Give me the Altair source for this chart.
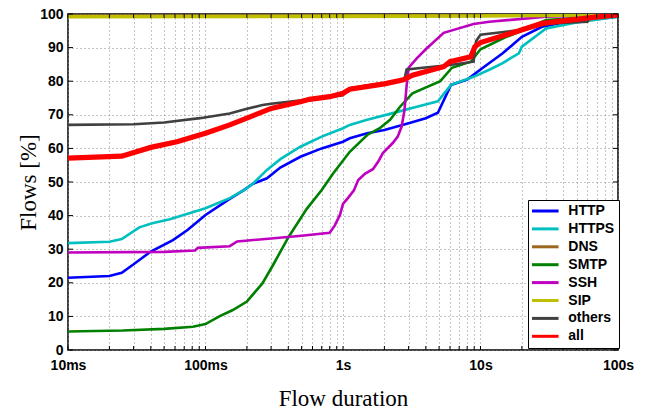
import altair as alt
import pandas as pd

series_names = ["HTTP", "HTTPS", "DNS", "SMTP", "SSH", "SIP", "others", "all"]
colors = ["#0000ff", "#00bfbf", "#9c661c", "#008000", "#bf00bf", "#bfbf00", "#404040", "#ff0000"]
widths = [2.6, 2.6, 2.6, 2.6, 2.6, 3.6, 2.6, 5.2]

# flow duration in seconds, share of flows in %
http_t = [0.01, 0.02, 0.0246, 0.03, 0.04, 0.058, 0.074, 0.1, 0.15, 0.19, 0.22, 0.28, 0.35, 0.49, 0.7, 1.0, 1.12,
          1.5, 2.0, 3.0, 4.0, 4.9, 6.1, 8.0, 10, 14.5, 20, 28, 40, 70, 100]
http_v = [21.5, 22.0, 23.0, 25.5, 29.3, 32.7, 35.7, 40.2, 45.0, 47.6, 49.4, 51.1, 54.3, 57.5, 60.0, 62.0, 63.0,
          64.5, 65.5, 67.5, 69.0, 70.6, 78.9, 80.5, 83.5, 88.3, 93.2, 96.2, 97.5, 98.5, 99.2]

https_t = [0.01, 0.02, 0.0246, 0.033, 0.041, 0.055, 0.1, 0.15, 0.19, 0.22, 0.28, 0.35, 0.49, 0.7, 1.0, 1.12,
           1.5, 2.3, 3.5, 4.9, 6.1, 8.9, 12, 14.5, 19, 20, 30, 50, 100]
https_v = [31.8, 32.2, 33.0, 36.5, 37.7, 38.9, 42.2, 45.2, 47.6, 49.4, 53.6, 56.8, 60.5, 63.5, 66.0, 67.0,
           68.5, 70.5, 72.5, 74.0, 78.9, 81.3, 83.7, 85.4, 88.3, 90.3, 95.7, 97.5, 99.2]

dns_t = [0.01, 1, 100]
dns_v = [99.5, 99.6, 100]

smtp_t = [0.01, 0.025, 0.05, 0.081, 0.1, 0.127, 0.158, 0.2, 0.26, 0.31, 0.4, 0.545, 0.7, 0.85, 1.12,
          1.5, 1.85, 2.2, 2.6, 3.2, 5.1, 6.2, 8.5, 10, 15, 20, 30, 100]
smtp_v = [5.5, 5.8, 6.3, 6.9, 7.7, 10.1, 11.9, 14.4, 19.9, 25.3, 33.5, 42.0, 47.6, 52.6, 59.0,
          64.0, 66.0, 68.5, 72.4, 76.4, 80.0, 84.0, 85.8, 89.5, 93.0, 95.0, 98.2, 99.6]

ssh_t = [0.01, 0.05, 0.084, 0.088, 0.15, 0.17, 0.3, 0.5, 0.8, 0.87, 0.95, 1.0, 1.1, 1.2, 1.29, 1.45, 1.65,
         1.8, 1.95, 2.3, 2.5, 2.67, 2.8, 2.9, 3.0, 3.44, 4.0, 5.4, 8.9, 11.6, 30, 100]
ssh_v = [29.0, 29.2, 29.6, 30.4, 30.9, 32.3, 33.2, 34.0, 34.9, 37.0, 40.2, 43.5, 45.5, 47.5, 50.6, 52.5, 53.8,
         56.0, 58.6, 61.6, 63.5, 66.5, 71.4, 78.5, 84.0, 86.8, 89.5, 94.4, 97.0, 97.7, 99.2, 99.8]

sip_t = [0.01, 1, 10, 30, 100]
sip_v = [99.2, 99.3, 99.4, 99.6, 99.9]

others_t = [0.01, 0.03, 0.05, 0.091, 0.15, 0.2, 0.26, 0.3, 0.5, 1.0, 1.05, 1.12, 2.0, 2.8, 2.9, 6.0,
            8.9, 9.3, 10, 19, 32, 60, 62, 100]
others_v = [67.0, 67.2, 67.7, 69.0, 70.4, 71.8, 72.9, 73.3, 74.3, 75.8, 77.0, 77.9, 79.5, 80.6, 83.5, 84.8,
            85.8, 92.0, 93.8, 95.2, 97.2, 97.7, 99.0, 99.4]

all_t = [0.01, 0.0246, 0.04, 0.062, 0.1, 0.15, 0.2, 0.3, 0.49, 0.57, 0.8, 1.0, 1.12, 2.0, 2.75, 3.2, 5.4,
         6.0, 8.5, 9.1, 10, 16.5, 28, 66, 100]
all_v = [57.1, 57.7, 60.3, 62.0, 64.5, 67.0, 69.0, 71.9, 73.9, 74.6, 75.4, 76.4, 77.6, 79.2, 80.4, 81.8, 84.3,
         85.8, 87.3, 90.3, 91.5, 94.2, 97.2, 99.0, 99.7]

x_tick_values = [0.01, 0.02, 0.03, 0.04, 0.05, 0.06, 0.07, 0.08, 0.09,
                 0.1, 0.2, 0.3, 0.4, 0.5, 0.6, 0.7, 0.8, 0.9,
                 1, 2, 3, 4, 5, 6, 7, 8, 9,
                 10, 20, 30, 40, 50, 60, 70, 80, 90, 100]
x_tick_labels = {0.01: "10ms", 0.1: "100ms", 1: "1s", 10: "10s", 100: "100s"}
y_tick_values = [0, 10, 20, 30, 40, 50, 60, 70, 80, 90, 100]

series_data = {
    "HTTP": (http_t, http_v),
    "HTTPS": (https_t, https_v),
    "DNS": (dns_t, dns_v),
    "SMTP": (smtp_t, smtp_v),
    "SSH": (ssh_t, ssh_v),
    "SIP": (sip_t, sip_v),
    "others": (others_t, others_v),
    "all": (all_t, all_v),
}

label_expr = " : ".join(
    f"datum.value == {k} ? '{v}'" for k, v in x_tick_labels.items()
) + " : ''"

x_scale = alt.Scale(type="log", domain=[0.01, 100], nice=False)
y_scale = alt.Scale(domain=[0, 100], nice=False)

x_enc = alt.X(
    "t:Q",
    scale=x_scale,
    axis=alt.Axis(
        values=x_tick_values, labelExpr=label_expr, grid=True, ticks=False, domain=False,
        gridColor="#888888", gridDash=[1, 3], gridWidth=1,
        labelFont="Liberation Sans", labelFontWeight="bold", labelFontSize=14, labelColor="black",
        labelPadding=8, labelFlush=False, labelOverlap=False,
        title="Flow duration", titleFont="Liberation Serif", titleFontSize=23, titleFontWeight="normal",
        titleColor="black", titleX=275, titleY=55, titleBaseline="alphabetic", titleAlign="center",
    ),
)
y_enc = alt.Y(
    "v:Q",
    scale=y_scale,
    axis=alt.Axis(
        values=y_tick_values, grid=True, ticks=False, domain=False,
        gridColor="#888888", gridDash=[1, 3], gridWidth=1,
        labelFont="Liberation Sans", labelFontWeight="bold", labelFontSize=14, labelColor="black",
        labelPadding=5, labelOverlap=False,
        title="Flows [%]", titleFont="Liberation Serif", titleFontSize=23, titleFontWeight="normal",
        titleColor="black", titleAngle=270, titleX=-33, titleY=168, titleBaseline="alphabetic",
        titleAlign="center",
    ),
)
color_enc = alt.Color(
    "series:N",
    scale=alt.Scale(domain=series_names, range=colors),
    legend=alt.Legend(
        title=None, orient="none", legendX=460, legendY=186,
        symbolType="M-4,0H4", symbolSize=44, symbolStrokeWidth=3, symbolOffset=6.3,
        labelOffset=16, labelFont="Liberation Sans", labelFontWeight="bold", labelFontSize=14,
        labelColor="black", rowPadding=3.9, padding=4, fillColor="white", strokeColor="black",
        cornerRadius=0,
    ),
)

layers = []
for name, w in zip(series_names, widths):
    t, v = series_data[name]
    df = pd.DataFrame({"t": t, "v": v, "series": name})
    layers.append(
        alt.Chart(df).mark_line(strokeWidth=w, clip=True).encode(x=x_enc, y=y_enc, color=color_enc)
    )

# inward tick marks on all four sides of the frame
xt = pd.DataFrame({"t": x_tick_values})
yt = pd.DataFrame({"v": y_tick_values})
tick_layers = [
    alt.Chart(xt).mark_rule(color="black", strokeWidth=1).encode(
        x=x_enc, y=alt.value(336), y2=alt.value(332)),
    alt.Chart(xt).mark_rule(color="black", strokeWidth=1).encode(
        x=x_enc, y=alt.value(0), y2=alt.value(4)),
    alt.Chart(yt).mark_rule(color="black", strokeWidth=1).encode(
        y=y_enc, x=alt.value(0), x2=alt.value(5)),
    alt.Chart(yt).mark_rule(color="black", strokeWidth=1).encode(
        y=y_enc, x=alt.value(550), x2=alt.value(545)),
]

chart = alt.layer(*layers, *tick_layers).properties(
    width=550, height=336,
    padding={"left": 68, "top": 14, "right": 30, "bottom": 59},
    autosize=alt.AutoSizeParams(type="none"),
    background="white",
).configure_view(stroke="black", strokeWidth=1.5)

chart.save("out.html", embed_options={"renderer": "svg", "actions": False})
